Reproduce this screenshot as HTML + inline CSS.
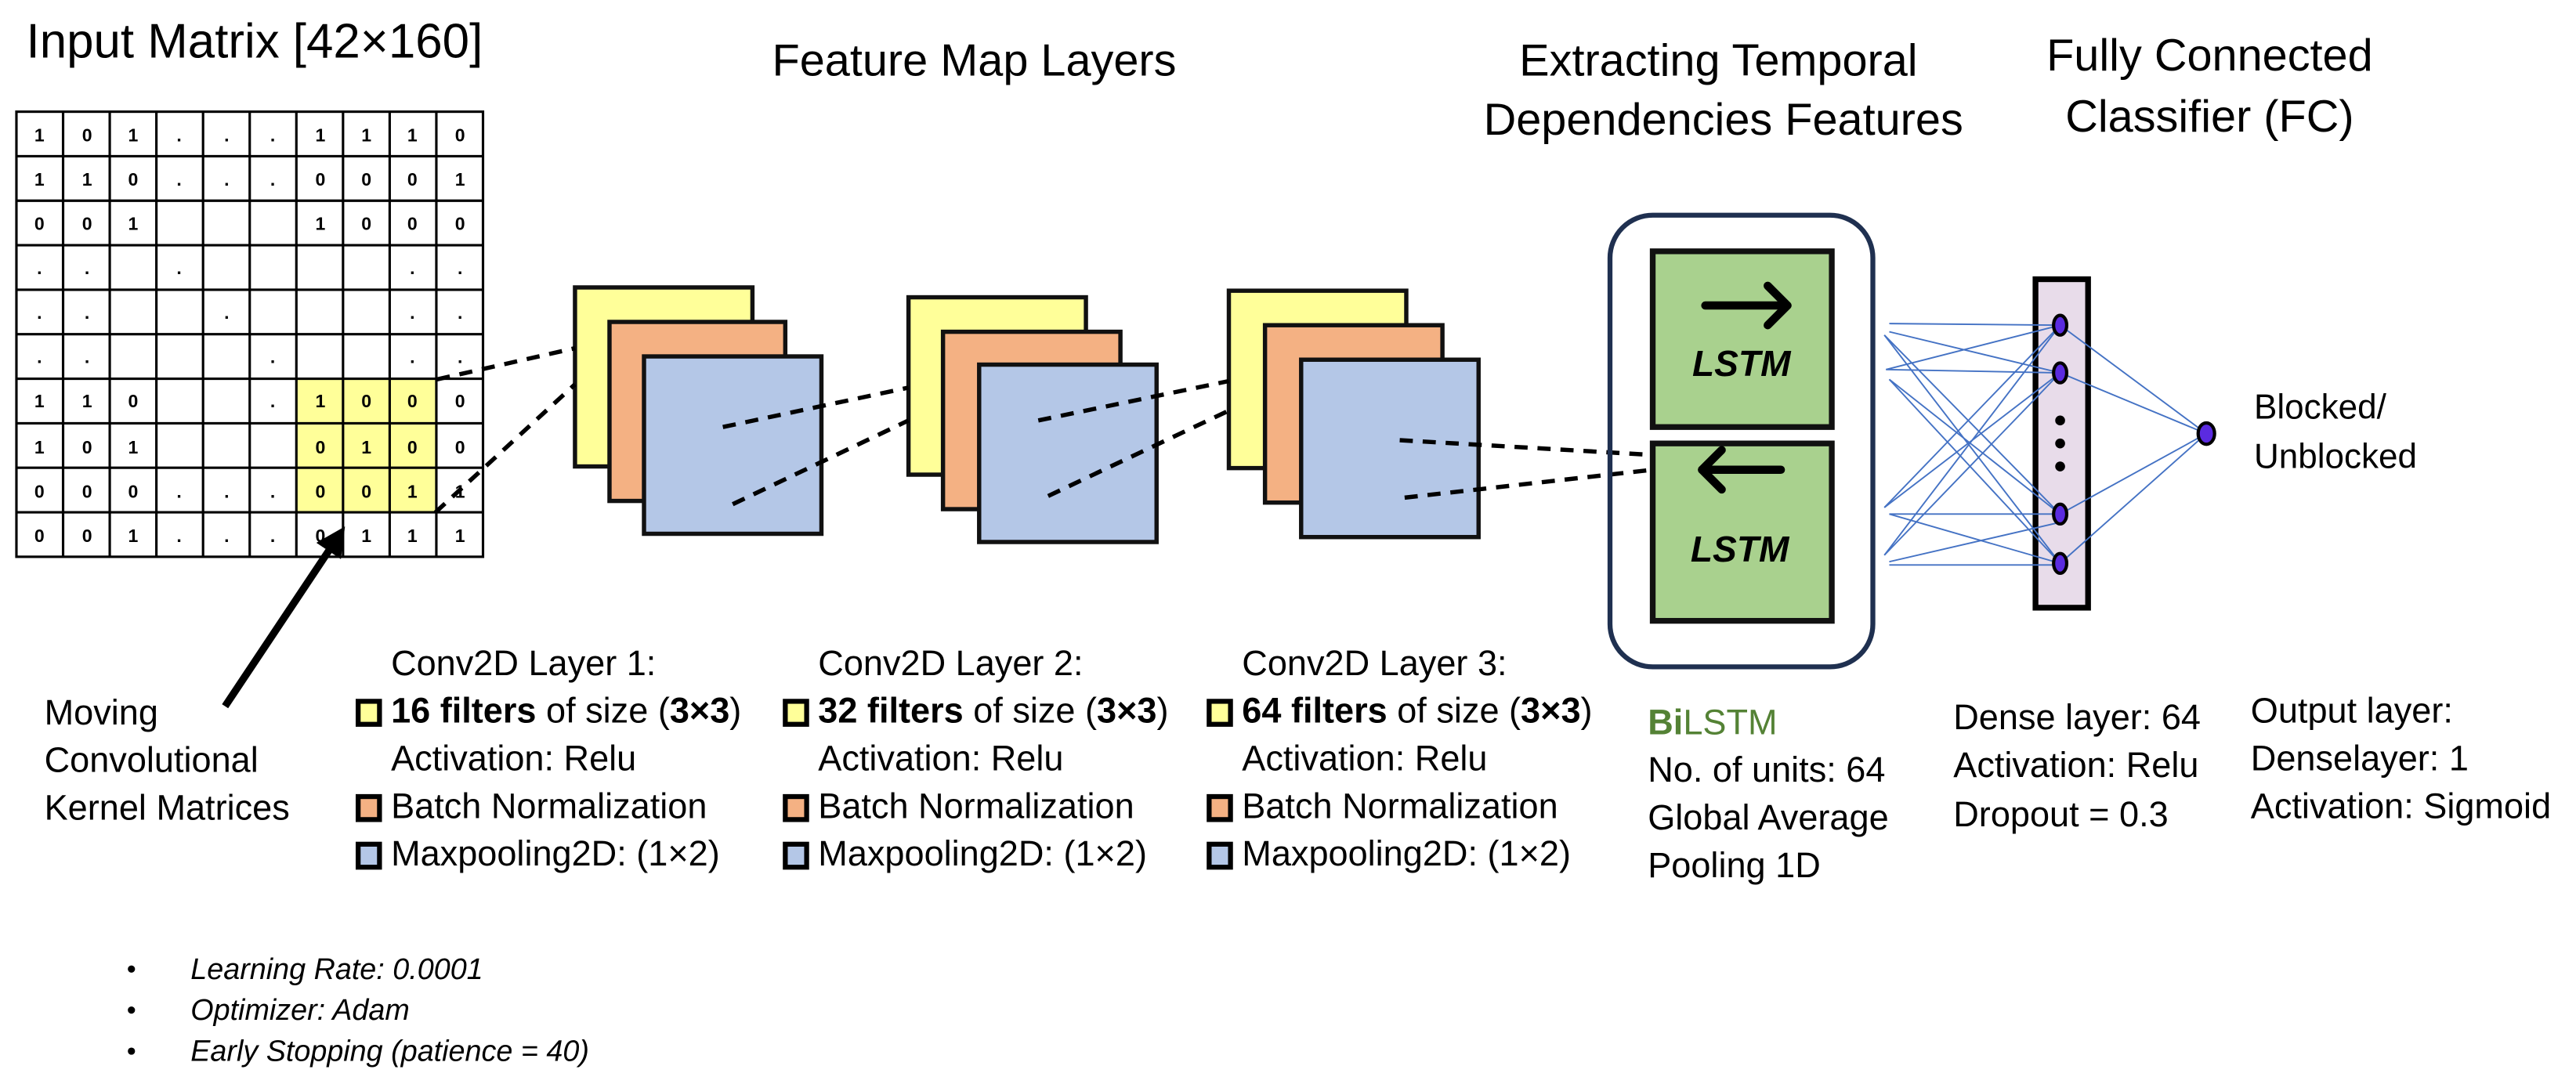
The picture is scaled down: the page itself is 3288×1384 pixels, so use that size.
<!DOCTYPE html>
<html><head><meta charset="utf-8"><style>
html,body{margin:0;padding:0;background:#fff;}
svg{display:block;}
text{font-family:"Liberation Sans",sans-serif;fill:#000;}
</style></head><body>
<svg width="3288" height="1384" viewBox="0 0 1568 660" xmlns="http://www.w3.org/2000/svg">
<defs>
<marker id="ah" markerWidth="4" markerHeight="4" refX="2" refY="2" orient="auto"><path d="M0,0 L4,2 L0,4 Z" fill="#000"/></marker>
</defs>
<!-- titles -->
<text x="16" y="35" font-size="29.5">Input Matrix [42×160]</text>
<text x="593" y="46" font-size="27.5" text-anchor="middle">Feature Map Layers</text>
<text x="1046" y="46" font-size="27.5" text-anchor="middle">Extracting Temporal</text>
<text x="1049" y="82" font-size="27.5" text-anchor="middle">Dependencies Features</text>
<text x="1345" y="43" font-size="27.5" text-anchor="middle">Fully Connected</text>
<text x="1345" y="80" font-size="27.5" text-anchor="middle">Classifier (FC)</text>

<!-- grid -->
<g id="grid">
<rect x="180.4" y="230.6" width="85.2" height="81.3" fill="#ffff99"/>
<g stroke="#000" stroke-width="1.5" fill="none">
<rect x="10" y="68" width="284" height="271"/>
<line x1="38.4" y1="68" x2="38.4" y2="339"/><line x1="66.8" y1="68" x2="66.8" y2="339"/><line x1="95.2" y1="68" x2="95.2" y2="339"/><line x1="123.6" y1="68" x2="123.6" y2="339"/><line x1="152" y1="68" x2="152" y2="339"/><line x1="180.4" y1="68" x2="180.4" y2="339"/><line x1="208.8" y1="68" x2="208.8" y2="339"/><line x1="237.2" y1="68" x2="237.2" y2="339"/><line x1="265.6" y1="68" x2="265.6" y2="339"/>
<line x1="10" y1="95.1" x2="294" y2="95.1"/><line x1="10" y1="122.2" x2="294" y2="122.2"/><line x1="10" y1="149.3" x2="294" y2="149.3"/><line x1="10" y1="176.4" x2="294" y2="176.4"/><line x1="10" y1="203.5" x2="294" y2="203.5"/><line x1="10" y1="230.6" x2="294" y2="230.6"/><line x1="10" y1="257.7" x2="294" y2="257.7"/><line x1="10" y1="284.8" x2="294" y2="284.8"/><line x1="10" y1="311.9" x2="294" y2="311.9"/>
</g>
<g font-size="11" font-weight="bold" text-anchor="middle">
<text x="24" y="86">1</text><text x="53" y="86">0</text><text x="81" y="86">1</text><text x="109" y="86">.</text><text x="138" y="86">.</text><text x="166" y="86">.</text><text x="195" y="86">1</text><text x="223" y="86">1</text><text x="251" y="86">1</text><text x="280" y="86">0</text>
<text x="24" y="113">1</text><text x="53" y="113">1</text><text x="81" y="113">0</text><text x="109" y="113">.</text><text x="138" y="113">.</text><text x="166" y="113">.</text><text x="195" y="113">0</text><text x="223" y="113">0</text><text x="251" y="113">0</text><text x="280" y="113">1</text>
<text x="24" y="140">0</text><text x="53" y="140">0</text><text x="81" y="140">1</text><text x="195" y="140">1</text><text x="223" y="140">0</text><text x="251" y="140">0</text><text x="280" y="140">0</text>
<text x="24" y="167">.</text><text x="53" y="167">.</text><text x="109" y="167">.</text><text x="251" y="167">.</text><text x="280" y="167">.</text>
<text x="24" y="194">.</text><text x="53" y="194">.</text><text x="138" y="194">.</text><text x="251" y="194">.</text><text x="280" y="194">.</text>
<text x="24" y="221">.</text><text x="53" y="221">.</text><text x="166" y="221">.</text><text x="251" y="221">.</text><text x="280" y="221">.</text>
<text x="24" y="248">1</text><text x="53" y="248">1</text><text x="81" y="248">0</text><text x="166" y="248">.</text><text x="195" y="248">1</text><text x="223" y="248">0</text><text x="251" y="248">0</text><text x="280" y="248">0</text>
<text x="24" y="276">1</text><text x="53" y="276">0</text><text x="81" y="276">1</text><text x="195" y="276">0</text><text x="223" y="276">1</text><text x="251" y="276">0</text><text x="280" y="276">0</text>
<text x="24" y="303">0</text><text x="53" y="303">0</text><text x="81" y="303">0</text><text x="109" y="303">.</text><text x="138" y="303">.</text><text x="166" y="303">.</text><text x="195" y="303">0</text><text x="223" y="303">0</text><text x="251" y="303">1</text><text x="280" y="303">1</text>
<text x="24" y="330">0</text><text x="53" y="330">0</text><text x="81" y="330">1</text><text x="109" y="330">.</text><text x="138" y="330">.</text><text x="166" y="330">.</text><text x="195" y="330">0</text><text x="223" y="330">1</text><text x="251" y="330">1</text><text x="280" y="330">1</text>
</g>
</g>
<!-- kernel arrow -->
<line x1="137" y1="430" x2="205" y2="328" stroke="#000" stroke-width="4.5" marker-end="url(#ah)"/>

<!-- stacks -->
<g stroke="#111" stroke-width="2.6">
<rect x="350" y="175" width="108" height="109" fill="#ffff99"/>
<rect x="371" y="196" width="107" height="109" fill="#f4b183"/>
<rect x="392" y="217" width="108" height="108" fill="#b4c7e7"/>
<rect x="553" y="181" width="108" height="108" fill="#ffff99"/>
<rect x="574" y="202" width="108" height="108" fill="#f4b183"/>
<rect x="596" y="222" width="108" height="108" fill="#b4c7e7"/>
<rect x="748" y="177" width="108" height="108" fill="#ffff99"/>
<rect x="770" y="198" width="108" height="108" fill="#f4b183"/>
<rect x="792" y="219" width="108" height="108" fill="#b4c7e7"/>
</g>
<!-- dashed connectors -->
<g stroke="#000" stroke-width="2.6" stroke-dasharray="8,6" fill="none">
<line x1="266" y1="231" x2="350" y2="212"/>
<line x1="265" y1="312" x2="350" y2="234"/>
<line x1="440" y1="260" x2="553" y2="236"/>
<line x1="446" y1="307" x2="553" y2="256"/>
<line x1="632" y1="256" x2="748" y2="232"/>
<line x1="638" y1="302" x2="748" y2="250"/>
<line x1="852" y1="268" x2="1006" y2="277"/>
<line x1="855" y1="303" x2="1006" y2="286"/>
</g>

<!-- BiLSTM -->
<rect x="980" y="131" width="160" height="275" rx="26" fill="none" stroke="#1f3050" stroke-width="3"/>
<rect x="1006" y="153" width="109" height="107" fill="#a9d18e" stroke="#111" stroke-width="3.5"/>
<rect x="1006" y="270" width="109" height="108" fill="#a9d18e" stroke="#111" stroke-width="3.5"/>
<g stroke="#000" stroke-width="5" fill="none" stroke-linecap="round" stroke-linejoin="round">
<line x1="1038" y1="186" x2="1088" y2="186"/><polyline points="1076,174 1088,186 1076,198"/>
<line x1="1084" y1="286" x2="1036" y2="286"/><polyline points="1048,274 1036,286 1048,298"/>
</g>
<text x="1060" y="229" font-size="22" font-weight="bold" font-style="italic" text-anchor="middle">LSTM</text>
<text x="1059" y="342" font-size="22" font-weight="bold" font-style="italic" text-anchor="middle">LSTM</text>

<!-- FC -->
<rect x="1239" y="170" width="32" height="200" fill="#e8dcea" stroke="#000" stroke-width="3.5"/>
<g stroke="#4472c4" stroke-width="0.9" fill="none">
<line x1="1150" y1="197" x2="1254" y2="198"/>
<line x1="1150" y1="202" x2="1254" y2="227"/>
<line x1="1147" y1="204" x2="1254" y2="313"/>
<line x1="1147" y1="204" x2="1254" y2="343"/>
<line x1="1148" y1="225" x2="1254" y2="198"/>
<line x1="1148" y1="225" x2="1254" y2="227"/>
<line x1="1150" y1="231" x2="1254" y2="313"/>
<line x1="1150" y1="231" x2="1254" y2="343"/>
<line x1="1147" y1="309" x2="1254" y2="198"/>
<line x1="1147" y1="309" x2="1254" y2="227"/>
<line x1="1150" y1="313" x2="1254" y2="313"/>
<line x1="1150" y1="313" x2="1254" y2="343"/>
<line x1="1147" y1="338" x2="1254" y2="198"/>
<line x1="1147" y1="338" x2="1254" y2="227"/>
<line x1="1150" y1="342" x2="1254" y2="318"/>
<line x1="1150" y1="344" x2="1254" y2="344"/>
<line x1="1254" y1="198" x2="1343" y2="264"/>
<line x1="1254" y1="227" x2="1343" y2="264"/>
<line x1="1254" y1="313" x2="1343" y2="264"/>
<line x1="1254" y1="343" x2="1343" y2="264"/>
</g>
<g fill="#5b2be0" stroke="#000" stroke-width="2">
<ellipse cx="1254" cy="198" rx="4" ry="6"/>
<ellipse cx="1254" cy="227" rx="4" ry="6"/>
<ellipse cx="1254" cy="313" rx="4" ry="6"/>
<ellipse cx="1254" cy="343" rx="4" ry="6"/>
<ellipse cx="1343" cy="264" rx="5" ry="6.5"/>
</g>
<g fill="#000"><circle cx="1254" cy="256" r="3"/><circle cx="1254" cy="270" r="3"/><circle cx="1254" cy="284" r="3"/></g>
<text x="1372" y="255" font-size="21">Blocked/</text>
<text x="1372" y="285" font-size="21">Unblocked</text>

<!-- bottom texts -->
<g font-size="21.5">
<text x="27" y="441">Moving</text>
<text x="27" y="470">Convolutional</text>
<text x="27" y="499">Kernel Matrices</text>

<text x="238" y="411">Conv2D Layer 1:</text>
<text x="238" y="440"><tspan font-weight="bold">16 filters</tspan> of size (<tspan font-weight="bold">3×3</tspan>)</text>
<text x="238" y="469">Activation: Relu</text>
<text x="238" y="498">Batch Normalization</text>
<text x="238" y="527">Maxpooling2D: (1×2)</text>

<text x="498" y="411">Conv2D Layer 2:</text>
<text x="498" y="440"><tspan font-weight="bold">32 filters</tspan> of size (<tspan font-weight="bold">3×3</tspan>)</text>
<text x="498" y="469">Activation: Relu</text>
<text x="498" y="498">Batch Normalization</text>
<text x="498" y="527">Maxpooling2D: (1×2)</text>

<text x="756" y="411">Conv2D Layer 3:</text>
<text x="756" y="440"><tspan font-weight="bold">64 filters</tspan> of size (<tspan font-weight="bold">3×3</tspan>)</text>
<text x="756" y="469">Activation: Relu</text>
<text x="756" y="498">Batch Normalization</text>
<text x="756" y="527">Maxpooling2D: (1×2)</text>

<text x="1003" y="447" style="fill:#548235"><tspan font-weight="bold">Bi</tspan>LSTM</text>
<text x="1003" y="476">No. of units: 64</text>
<text x="1003" y="505">Global Average</text>
<text x="1003" y="534">Pooling 1D</text>

<text x="1189" y="444">Dense layer: 64</text>
<text x="1189" y="473">Activation: Relu</text>
<text x="1189" y="503">Dropout = 0.3</text>

<text x="1370" y="440">Output layer:</text>
<text x="1370" y="469">Denselayer: 1</text>
<text x="1370" y="498">Activation: Sigmoid</text>
</g>
<g stroke="#000" stroke-width="3">
<rect x="218" y="427" width="13" height="14" fill="#ffff99"/>
<rect x="218" y="485" width="13" height="14" fill="#f4b183"/>
<rect x="218" y="514" width="13" height="14" fill="#b4c7e7"/>
<rect x="478" y="427" width="13" height="14" fill="#ffff99"/>
<rect x="478" y="485" width="13" height="14" fill="#f4b183"/>
<rect x="478" y="514" width="13" height="14" fill="#b4c7e7"/>
<rect x="736" y="427" width="13" height="14" fill="#ffff99"/>
<rect x="736" y="485" width="13" height="14" fill="#f4b183"/>
<rect x="736" y="514" width="13" height="14" fill="#b4c7e7"/>
</g>
<g font-size="18" font-style="italic">
<circle cx="80" cy="590" r="2.2"/><text x="116" y="596">Learning Rate: 0.0001</text>
<circle cx="80" cy="615" r="2.2"/><text x="116" y="621">Optimizer: Adam</text>
<circle cx="80" cy="640" r="2.2"/><text x="116" y="646">Early Stopping (patience = 40)</text>
</g>
</svg>
</body></html>
